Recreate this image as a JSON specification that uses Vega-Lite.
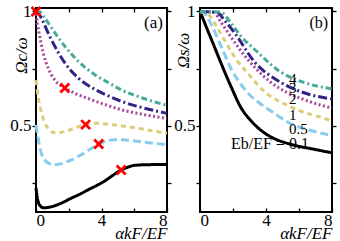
{
  "$schema": "https://vega.github.io/schema/vega-lite/v6.json",
  "padding": {"left": 8, "top": 0, "right": 0, "bottom": 0},
  "bounds": "flush",
  "spacing": 33,
  "config": {
    "view": {"stroke": "black", "strokeWidth": 2},
    "font": "Liberation Serif, DejaVu Serif, serif",
    "axis": {
      "grid": false, "domain": false,
      "labelFont": "Liberation Serif, DejaVu Serif, serif", "labelFontSize": 17, "labelColor": "black",
      "tickColor": "black", "tickWidth": 1.3,
      "titleFont": "Liberation Serif, DejaVu Serif, serif", "titleFontSize": 17, "titleFontStyle": "italic",
      "titleFontWeight": "normal", "titleColor": "black", "labelOverlap": false
    }
  },
  "datasets": {
    "a": [
      {"eb": "0.1", "x": 0, "y": 0.23}, {"eb": "0.1", "x": 0.06, "y": 0.195}, {"eb": "0.1", "x": 0.13, "y": 0.17},
      {"eb": "0.1", "x": 0.25, "y": 0.152}, {"eb": "0.1", "x": 0.45, "y": 0.143}, {"eb": "0.1", "x": 0.7, "y": 0.144},
      {"eb": "0.1", "x": 1.15, "y": 0.152}, {"eb": "0.1", "x": 1.6, "y": 0.165}, {"eb": "0.1", "x": 2.16, "y": 0.185},
      {"eb": "0.1", "x": 2.7, "y": 0.203}, {"eb": "0.1", "x": 3.2, "y": 0.222}, {"eb": "0.1", "x": 3.7, "y": 0.24},
      {"eb": "0.1", "x": 4.2, "y": 0.26}, {"eb": "0.1", "x": 4.7, "y": 0.285}, {"eb": "0.1", "x": 5.2, "y": 0.308},
      {"eb": "0.1", "x": 5.6, "y": 0.32}, {"eb": "0.1", "x": 6.0, "y": 0.328}, {"eb": "0.1", "x": 6.8, "y": 0.331},
      {"eb": "0.1", "x": 8, "y": 0.332},
      {"eb": "0.5", "x": 0, "y": 0.505}, {"eb": "0.5", "x": 0.1, "y": 0.46}, {"eb": "0.5", "x": 0.2, "y": 0.42},
      {"eb": "0.5", "x": 0.33, "y": 0.38}, {"eb": "0.5", "x": 0.5, "y": 0.355}, {"eb": "0.5", "x": 0.74, "y": 0.338},
      {"eb": "0.5", "x": 1.0, "y": 0.332}, {"eb": "0.5", "x": 1.3, "y": 0.332}, {"eb": "0.5", "x": 1.96, "y": 0.346},
      {"eb": "0.5", "x": 2.4, "y": 0.36}, {"eb": "0.5", "x": 2.77, "y": 0.375}, {"eb": "0.5", "x": 3.3, "y": 0.398},
      {"eb": "0.5", "x": 3.83, "y": 0.421}, {"eb": "0.5", "x": 4.3, "y": 0.435}, {"eb": "0.5", "x": 4.8, "y": 0.44},
      {"eb": "0.5", "x": 5.3, "y": 0.44}, {"eb": "0.5", "x": 5.82, "y": 0.436}, {"eb": "0.5", "x": 7, "y": 0.426},
      {"eb": "0.5", "x": 8, "y": 0.418},
      {"eb": "1", "x": 0, "y": 0.7}, {"eb": "1", "x": 0.13, "y": 0.63}, {"eb": "1", "x": 0.34, "y": 0.557},
      {"eb": "1", "x": 0.5, "y": 0.52}, {"eb": "1", "x": 0.64, "y": 0.5}, {"eb": "1", "x": 0.9, "y": 0.478},
      {"eb": "1", "x": 1.15, "y": 0.47}, {"eb": "1", "x": 1.5, "y": 0.472}, {"eb": "1", "x": 1.96, "y": 0.48},
      {"eb": "1", "x": 2.5, "y": 0.495}, {"eb": "1", "x": 3.03, "y": 0.506}, {"eb": "1", "x": 3.6, "y": 0.512},
      {"eb": "1", "x": 4.4, "y": 0.508}, {"eb": "1", "x": 5.3, "y": 0.5}, {"eb": "1", "x": 6.23, "y": 0.49},
      {"eb": "1", "x": 7, "y": 0.48}, {"eb": "1", "x": 8, "y": 0.468},
      {"eb": "2", "x": 0, "y": 0.99}, {"eb": "2", "x": 0.1, "y": 0.94}, {"eb": "2", "x": 0.23, "y": 0.89},
      {"eb": "2", "x": 0.44, "y": 0.82}, {"eb": "2", "x": 0.74, "y": 0.753}, {"eb": "2", "x": 1.15, "y": 0.7},
      {"eb": "2", "x": 1.76, "y": 0.666}, {"eb": "2", "x": 2.4, "y": 0.642}, {"eb": "2", "x": 3.18, "y": 0.62},
      {"eb": "2", "x": 4.2, "y": 0.594}, {"eb": "2", "x": 5.2, "y": 0.571}, {"eb": "2", "x": 6.5, "y": 0.551},
      {"eb": "2", "x": 8, "y": 0.533},
      {"eb": "3", "x": 0, "y": 1.0}, {"eb": "3", "x": 0.13, "y": 0.995}, {"eb": "3", "x": 0.4, "y": 0.96},
      {"eb": "3", "x": 0.74, "y": 0.906}, {"eb": "3", "x": 1.15, "y": 0.848}, {"eb": "3", "x": 1.76, "y": 0.775},
      {"eb": "3", "x": 2.57, "y": 0.71}, {"eb": "3", "x": 3.59, "y": 0.66}, {"eb": "3", "x": 4.4, "y": 0.632},
      {"eb": "3", "x": 5.2, "y": 0.608}, {"eb": "3", "x": 6.5, "y": 0.58}, {"eb": "3", "x": 8, "y": 0.555},
      {"eb": "4", "x": 0, "y": 1.0}, {"eb": "4", "x": 0.23, "y": 0.998}, {"eb": "4", "x": 0.5, "y": 0.975},
      {"eb": "4", "x": 0.95, "y": 0.928}, {"eb": "4", "x": 1.76, "y": 0.848}, {"eb": "4", "x": 2.57, "y": 0.783},
      {"eb": "4", "x": 3.59, "y": 0.724}, {"eb": "4", "x": 4.4, "y": 0.69}, {"eb": "4", "x": 5.2, "y": 0.658},
      {"eb": "4", "x": 6.5, "y": 0.622}, {"eb": "4", "x": 8, "y": 0.59}
    ],
    "crosses": [
      {"x": 0, "y": 1.0}, {"x": 1.76, "y": 0.666}, {"x": 3.03, "y": 0.506}, {"x": 3.83, "y": 0.421}, {"x": 5.2, "y": 0.308}
    ],
    "b": [
      {"eb": "0.1", "x": 0, "y": 1}, {"eb": "0.1", "x": 0.2, "y": 0.965}, {"eb": "0.1", "x": 0.45, "y": 0.92},
      {"eb": "0.1", "x": 0.85, "y": 0.85}, {"eb": "0.1", "x": 1.27, "y": 0.775}, {"eb": "0.1", "x": 1.88, "y": 0.672},
      {"eb": "0.1", "x": 2.5, "y": 0.578}, {"eb": "0.1", "x": 3.0, "y": 0.53}, {"eb": "0.1", "x": 3.5, "y": 0.493},
      {"eb": "0.1", "x": 4.0, "y": 0.465}, {"eb": "0.1", "x": 4.5, "y": 0.445}, {"eb": "0.1", "x": 5.5, "y": 0.42},
      {"eb": "0.1", "x": 6.8, "y": 0.4}, {"eb": "0.1", "x": 8, "y": 0.383},
      {"eb": "0.5", "x": 0, "y": 1}, {"eb": "0.5", "x": 0.3, "y": 0.99}, {"eb": "0.5", "x": 0.7, "y": 0.94},
      {"eb": "0.5", "x": 1.27, "y": 0.85}, {"eb": "0.5", "x": 1.88, "y": 0.75}, {"eb": "0.5", "x": 2.5, "y": 0.68},
      {"eb": "0.5", "x": 3.1, "y": 0.63}, {"eb": "0.5", "x": 3.7, "y": 0.595}, {"eb": "0.5", "x": 4.3, "y": 0.565},
      {"eb": "0.5", "x": 5.5, "y": 0.51}, {"eb": "0.5", "x": 6.9, "y": 0.477}, {"eb": "0.5", "x": 8, "y": 0.458},
      {"eb": "1", "x": 0, "y": 1}, {"eb": "1", "x": 0.6, "y": 0.98}, {"eb": "1", "x": 1.0, "y": 0.935},
      {"eb": "1", "x": 1.6, "y": 0.86}, {"eb": "1", "x": 2.2, "y": 0.79}, {"eb": "1", "x": 2.9, "y": 0.73},
      {"eb": "1", "x": 3.9, "y": 0.65}, {"eb": "1", "x": 5.1, "y": 0.597}, {"eb": "1", "x": 6.3, "y": 0.56},
      {"eb": "1", "x": 7.0, "y": 0.545}, {"eb": "1", "x": 8, "y": 0.522},
      {"eb": "2", "x": 0, "y": 1}, {"eb": "2", "x": 0.85, "y": 0.995}, {"eb": "2", "x": 1.3, "y": 0.95},
      {"eb": "2", "x": 1.86, "y": 0.89}, {"eb": "2", "x": 2.9, "y": 0.79}, {"eb": "2", "x": 4.3, "y": 0.69},
      {"eb": "2", "x": 5.3, "y": 0.645}, {"eb": "2", "x": 6.3, "y": 0.615}, {"eb": "2", "x": 8, "y": 0.578},
      {"eb": "3", "x": 0, "y": 1}, {"eb": "3", "x": 1.05, "y": 0.995}, {"eb": "3", "x": 1.5, "y": 0.96},
      {"eb": "3", "x": 2.06, "y": 0.91}, {"eb": "3", "x": 3.3, "y": 0.78}, {"eb": "3", "x": 4.9, "y": 0.69},
      {"eb": "3", "x": 6.3, "y": 0.645}, {"eb": "3", "x": 8, "y": 0.618},
      {"eb": "4", "x": 0, "y": 1}, {"eb": "4", "x": 1.26, "y": 0.997}, {"eb": "4", "x": 1.86, "y": 0.95},
      {"eb": "4", "x": 2.5, "y": 0.89}, {"eb": "4", "x": 3.3, "y": 0.835}, {"eb": "4", "x": 4.9, "y": 0.735},
      {"eb": "4", "x": 6.3, "y": 0.69}, {"eb": "4", "x": 8, "y": 0.662}
    ],
    "labelsB": [
      {"x": 5.39, "y": 0.707, "t": "4"}, {"x": 5.39, "y": 0.666, "t": "3"}, {"x": 5.39, "y": 0.618, "t": "2"},
      {"x": 5.39, "y": 0.548, "t": "1"}, {"x": 5.39, "y": 0.487, "t": "0.5"}
    ]
  },
  "hconcat": [
    {
      "width": 131, "height": 204,
      "layer": [
        {
          "data": {"name": "a"},
          "mark": {"type": "line", "strokeWidth": 3, "interpolate": "monotone", "strokeCap": "butt"},
          "encoding": {
            "x": {"field": "x", "type": "quantitative", "scale": {"domain": [0, 8], "nice": false, "zero": false},
              "axis": {"orient": "bottom", "values": [0, 2, 4, 6, 8], "labelExpr": "datum.value == 0 || datum.value == 4 || datum.value == 8 ? datum.label : ''",
                "tickSize": -4, "labelPadding": 4, "title": "αkF/EF", "titleAnchor": "end", "titleAlign": "right",
                "titleBaseline": "alphabetic", "titleX": 131, "titleY": 26}},
            "y": {"field": "y", "type": "quantitative", "scale": {"domain": [0.1245, 1.015], "nice": false, "zero": false},
              "axis": {"orient": "left", "values": [0.25, 0.5, 0.75, 1], "labelExpr": "datum.value == 1 ? '1' : datum.value == 0.5 ? '0.5' : ''",
                "tickSize": 4, "labelPadding": 1, "title": "Ωc/ω", "titleX": -14.5, "titleY": 47, "titleAngle": -90,
                "titleAlign": "center", "titleBaseline": "middle"}},
            "color": {"field": "eb", "type": "nominal", "legend": null,
              "scale": {"domain": ["0.1", "0.5", "1", "2", "3", "4"], "range": ["#000000", "#88CCEE", "#DDCC77", "#AA4499", "#332288", "#44AA99"]}},
            "strokeDash": {"field": "eb", "type": "nominal", "legend": null,
              "scale": {"domain": ["0.1", "0.5", "1", "2", "3", "4"], "range": [[1, 0], [8, 4], [5, 4], [2, 2.5], [9, 3, 2, 3], [6, 3, 2, 3]]}}
          }
        },
        {
          "data": {"name": "crosses"},
          "mark": {"type": "point", "shape": "M-1,-1L1,1M-1,1L1,-1", "size": 80, "color": "#ff0000", "strokeWidth": 2.8, "filled": false, "opacity": 1},
          "encoding": {
            "x": {"field": "x", "type": "quantitative", "scale": {"domain": [0, 8], "nice": false, "zero": false},
              "axis": {"orient": "top", "values": [0, 2, 4, 6, 8], "labels": false, "tickSize": -4, "title": null}},
            "y": {"field": "y", "type": "quantitative", "scale": {"domain": [0.1245, 1.015], "nice": false, "zero": false},
              "axis": {"orient": "right", "values": [0.25, 0.5, 0.75, 1], "labels": false, "tickSize": 4, "title": null}}
          }
        },
        {
          "data": {"values": [{"x": 7.75, "y": 0.948, "t": "(a)"}]},
          "mark": {"type": "text", "align": "right", "baseline": "middle", "fontSize": 17, "font": "Liberation Serif, DejaVu Serif, serif", "color": "black"},
          "encoding": {
            "x": {"field": "x", "type": "quantitative", "axis": null},
            "y": {"field": "y", "type": "quantitative", "axis": null},
            "text": {"field": "t"}
          }
        }
      ]
    },
    {
      "width": 132, "height": 204,
      "layer": [
        {
          "data": {"name": "b"},
          "mark": {"type": "line", "strokeWidth": 3, "interpolate": "monotone", "strokeCap": "butt"},
          "encoding": {
            "x": {"field": "x", "type": "quantitative", "scale": {"domain": [0, 8], "nice": false, "zero": false},
              "axis": {"orient": "bottom", "values": [0, 2, 4, 6, 8], "labelExpr": "datum.value == 0 || datum.value == 4 || datum.value == 8 ? datum.label : ''",
                "tickSize": -4, "labelPadding": 4, "title": "αkF/EF", "titleAnchor": "end", "titleAlign": "right",
                "titleBaseline": "alphabetic", "titleX": 132, "titleY": 26}},
            "y": {"field": "y", "type": "quantitative", "scale": {"domain": [0.1245, 1.015], "nice": false, "zero": false},
              "axis": {"orient": "left", "values": [0.25, 0.5, 0.75, 1], "labelExpr": "datum.value == 1 ? '1' : datum.value == 0.5 ? '0.5' : ''",
                "tickSize": 4, "labelPadding": 1, "title": "Ωs/ω", "titleX": -17, "titleY": 42, "titleAngle": -90,
                "titleAlign": "center", "titleBaseline": "middle"}},
            "color": {"field": "eb", "type": "nominal", "legend": null,
              "scale": {"domain": ["0.1", "0.5", "1", "2", "3", "4"], "range": ["#000000", "#88CCEE", "#DDCC77", "#AA4499", "#332288", "#44AA99"]}},
            "strokeDash": {"field": "eb", "type": "nominal", "legend": null,
              "scale": {"domain": ["0.1", "0.5", "1", "2", "3", "4"], "range": [[1, 0], [8, 4], [5, 4], [2, 2.5], [9, 3, 2, 3], [6, 3, 2, 3]]}}
          }
        },
        {
          "data": {"name": "labelsB"},
          "mark": {"type": "text", "align": "left", "baseline": "middle", "fontSize": 15, "font": "Liberation Serif, DejaVu Serif, serif", "color": "black"},
          "encoding": {
            "x": {"field": "x", "type": "quantitative", "scale": {"domain": [0, 8], "nice": false, "zero": false},
              "axis": {"orient": "top", "values": [0, 2, 4, 6, 8], "labels": false, "tickSize": -4, "title": null}},
            "y": {"field": "y", "type": "quantitative", "scale": {"domain": [0.1245, 1.015], "nice": false, "zero": false},
              "axis": {"orient": "right", "values": [0.25, 0.5, 0.75, 1], "labels": false, "tickSize": 4, "title": null}},
            "text": {"field": "t"}
          }
        },
        {
          "data": {"values": [{"x": 6.6, "y": 0.421, "t": "Eb/EF = 0.1"}, {"x": 7.76, "y": 0.948, "t": "(b)"}]},
          "mark": {"type": "text", "align": "right", "baseline": "middle", "fontSize": 16, "font": "Liberation Serif, DejaVu Serif, serif", "color": "black"},
          "encoding": {
            "x": {"field": "x", "type": "quantitative", "axis": null},
            "y": {"field": "y", "type": "quantitative", "axis": null},
            "text": {"field": "t"}
          }
        }
      ]
    }
  ]
}
